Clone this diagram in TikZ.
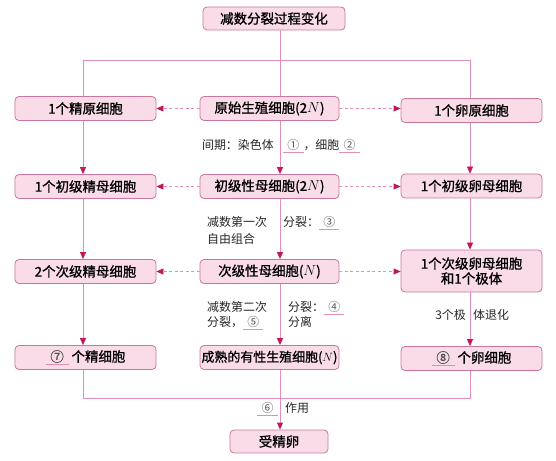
\documentclass[tikz,border=0pt]{standalone}
\usepackage{fontspec}
\usepackage{tikz}
\usetikzlibrary{arrows.meta}
\newfontfamily\boxfont[FakeBold=1]{Noto Sans CJK SC}
\newfontfamily\labfont{Noto Sans CJK SC}
\definecolor{boxfill}{HTML}{FADCE9}
\definecolor{boxline}{HTML}{C8769F}
\definecolor{linkc}{HTML}{E48DB9}
\definecolor{tipc}{HTML}{C2185B}
\definecolor{numc}{HTML}{555555}
\tikzset{>={Triangle[length=7bp,width=6bp,color=tipc]}}
\newcommand{\fillin}[1]{\textcolor{linkc}{\underline{\makebox[1.7em]{\textcolor{numc}{#1}}}}}

\begin{document}
\begin{tikzpicture}[x=1bp, y=-1bp,
  cellbox/.style = {draw=boxline, fill=boxfill, line width=0.8bp, rounded corners=4bp, minimum width=141bp, minimum height=24bp, inner sep=0pt, align=center, font=\boxfont\fontsize{13.5}{15}\selectfont},
  note/.style = {inner sep=0pt, align=left, text=black!85, font=\labfont\fontsize{12}{17}\selectfont},
  link/.style = {draw=linkc, line width=0.8bp},
  flow/.style = {link, ->},
  side/.style = {link, ->, dash pattern=on 3bp off 2.5bp}]
\useasboundingbox (0,0) rectangle (556,461);

\coordinate (colL) at (83,0);
\coordinate (colM) at (280,0);
\coordinate (colR) at (470,0);
\coordinate (topL) at (83,60);
\coordinate (topR) at (470,60);
\coordinate (botL) at (83,398);
\coordinate (botR) at (470,398);

\node[cellbox, minimum width=142bp, minimum height=23bp] (title) at (274,18.5) {减数分裂过程变化};

\node[cellbox] (spermO) at (85.5,108.5) {1个精原细胞};
\node[cellbox, minimum width=139bp] (germO) at (269.5,108.5) {原始生殖细胞(2$N$)};
\node[cellbox] (eggO) at (471.5,110.5) {1个卵原细胞};

\node[cellbox] (spermP) at (85.5,186.5) {1个初级精母细胞};
\node[cellbox, minimum width=139bp] (germP) at (269.5,186.5) {初级性母细胞(2$N$)};
\node[cellbox] (eggP) at (471.5,186) {1个初级卵母细胞};

\node[cellbox] (spermS) at (85.5,271.5) {2个次级精母细胞};
\node[cellbox, minimum width=139bp] (germS) at (269.5,271.5) {次级性母细胞($N$)};
\node[cellbox, minimum height=42bp] (eggS) at (471.5,271) {1个次级卵母细胞\\和1个极体};

\node[cellbox] (spermM) at (85.5,357.5) {\fillin{⑦} 个精细胞};
\node[cellbox, minimum width=139bp, font=\boxfont\fontsize{13}{15}\selectfont] (germM) at (269.5,357.5) {成熟的有性生殖细胞($N$)};
\node[cellbox] (eggM) at (471.5,358.5) {\fillin{⑧} 个卵细胞};

\node[cellbox, minimum width=98bp, minimum height=23bp] (zygote) at (279,441.5) {受精卵};

\draw[link] (title.south -| colM) -- (germO.north -| colM);
\draw[link] (topL) -- (topR);
\draw[link] (topL) -- (spermO.north -| topL);
\draw[link] (topR) -- (eggO.north -| topR);

\draw[side] (germO.west) -- (spermO.east);
\draw[side] (germO.east) -- (germO.east -| eggO.west);
\draw[side] (germP.west) -- (spermP.east);
\draw[side] (germP.east) -- (germP.east -| eggP.west);
\draw[side] (germS.west) -- (spermS.east);
\draw[side] (germS.east) -- (germS.east -| eggS.west);

\draw[flow] (spermO.south -| colL) -- (spermP.north -| colL);
\draw[flow] (germO.south -| colM) -- (germP.north -| colM);
\draw[flow] (eggO.south -| colR) -- (eggP.north -| colR);
\draw[flow] (spermP.south -| colL) -- (spermS.north -| colL);
\draw[flow] (germP.south -| colM) -- (germS.north -| colM);
\draw[flow] (eggP.south -| colR) -- (eggS.north -| colR);
\draw[flow] (spermS.south -| colL) -- (spermM.north -| colL);
\draw[flow] (germS.south -| colM) -- (germM.north -| colM);
\draw[flow] (eggS.south -| colR) -- (eggM.north -| colR);

\draw[link] (spermM.south -| botL) -- (botL) -- (botR) -- (eggM.south -| botR);
\draw[flow] (germM.south -| colM) -- (zygote.north -| colM);

\node[note, anchor=base east] (interL) at (274,149.5) {间期：染色体};
\node[note, anchor=base west] (interR) at (283,149.5) {\fillin{①}，细胞\fillin{②}};
\node[note, anchor=base west] (meioIL) at (207,243.5) {减数第一次\\自由组合};
\node[note, anchor=base west] (meioIR) at (283,226.5) {分裂：\fillin{③}};
\node[note, anchor=base west, font=\labfont\fontsize{12}{15}\selectfont] (meioIIL) at (207,326.5) {减数第二次\\分裂，\fillin{⑤}};
\node[note, anchor=base west, font=\labfont\fontsize{12}{15}\selectfont] (meioIIR) at (288,326.5) {分裂：\fillin{④}\\分离};
\node[note, anchor=base east] (polarL) at (466,319.5) {3个极};
\node[note, anchor=base west] (polarR) at (473,319.5) {体退化};
\node[note, anchor=base east] (fuseL) at (278,412.5) {\fillin{⑥}};
\node[note, anchor=base west] (fuseR) at (285,412.5) {作用};
\end{tikzpicture}
\end{document}
